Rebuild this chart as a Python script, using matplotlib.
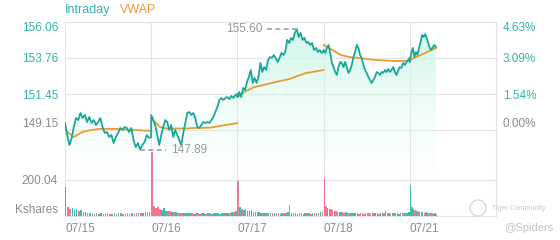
import numpy as np
import matplotlib.pyplot as plt
from matplotlib.colors import LinearSegmentedColormap
from matplotlib.patches import Polygon, Ellipse

plt.rcParams['font.family'] = ['Liberation Sans', 'DejaVu Sans']

# ---- data ----
dates = ["07/15", "07/16", "07/17", "07/18", "07/21"]
prev_close = 149.15
price_ticks = [149.15, 151.45, 153.76, 156.06]
vol_tick = 200.04
minutes_traded = [390, 390, 390, 390, 118]
open_bar_up = [True, False, False, False, True]

price_0715 = [149.60, 148.83, 148.19, 148.64, 149.34, 149.92, 149.79, 150.24, 149.92, 150.11,
              149.66, 149.98, 149.60, 149.79, 149.47, 149.66, 149.92, 149.34, 148.96, 149.02,
              148.70, 148.83, 148.32, 148.70, 148.96, 149.28, 149.15, 149.34, 149.28, 149.02,
              149.28, 148.51, 148.06, 148.32, 147.89, 148.19, 148.38, 148.83, 148.64, 148.70]
price_0716 = [150.11, 149.79, 149.47, 148.83, 148.19, 148.83, 149.34, 149.79, 149.66, 149.15,
              149.47, 148.70, 149.15, 148.83, 148.51, 148.19, 148.96, 149.60, 150.24, 150.30,
              150.11, 150.24, 149.92, 149.34, 149.28, 149.47, 149.66, 149.60, 149.66, 149.60,
              149.79, 149.98, 150.30, 150.62, 151.07, 151.20, 151.07, 151.20, 151.26, 151.13,
              151.33, 151.20, 151.39, 151.45]
price_0717 = [151.26, 151.58, 151.26, 151.84, 151.71, 152.22, 152.54, 152.99, 152.16, 152.48,
              152.16, 152.54, 153.44, 152.86, 153.18, 152.99, 153.63, 153.82, 153.76, 153.95,
              153.76, 153.50, 153.76, 154.08, 153.95, 154.14, 154.91, 154.72, 155.04, 154.91,
              155.36, 155.60, 155.10, 155.36, 154.91, 155.04, 154.72, 154.78, 154.59, 154.72,
              154.27, 154.40, 154.14, 154.27, 154.08, 154.21]
price_0718 = [154.27, 154.08, 154.40, 154.59, 154.08, 153.44, 153.18, 152.86, 152.67, 153.18,
              153.50, 153.44, 153.18, 153.50, 153.18, 152.80, 152.99, 153.31, 153.82, 154.14,
              154.59, 154.40, 153.95, 153.76, 153.31, 152.99, 152.80, 152.54, 152.35, 152.16,
              152.35, 152.54, 152.86, 152.80, 152.67, 152.86, 152.80, 152.99, 152.86, 153.05,
              152.86, 152.99, 153.18, 152.86, 152.67, 152.99, 153.18, 153.12, 153.44, 153.31,
              153.50, 153.63, 153.76]
price_0721 = [153.50, 154.08, 154.40, 153.82, 154.14, 153.95, 154.40, 154.78, 155.23, 155.10,
              155.29, 155.04, 154.72, 154.40, 154.27, 154.46, 154.59, 154.46]

vwap_0715 = [149.15, 148.70, 149.02, 149.15, 149.22, 149.22, 149.22, 149.18, 149.15, 149.12, 149.09]
vwap_0716 = [149.92, 149.34, 149.22, 149.25, 149.25, 149.28, 149.28, 149.31, 149.41, 149.50, 149.60]
vwap_0717 = [151.26, 151.65, 151.90, 152.03, 152.16, 152.29, 152.41, 152.61, 152.80, 152.89, 152.99]
vwap_0718 = [154.59, 154.27, 153.95, 153.82, 153.76, 153.69, 153.63, 153.60, 153.57, 153.57, 153.57]
vwap_0721 = [153.63, 153.82, 154.01, 154.21, 154.40]

# volume, thousand shares per sample
vol_0715 = [161, 48, 40, 45, 35, 38, 30, 32, 25, 20, 16, 18, 14, 12, 15, 12, 14, 10, 12, 14,
            10, 12, 14, 12, 15, 14, 12, 10, 14, 12, 15, 18, 14, 16, 15, 18, 20, 18, 25, 45]
vol_0716 = [356, 55, 42, 48, 40, 35, 42, 30, 26, 28, 22, 20, 24, 18, 15, 18, 16, 14, 15, 18,
            14, 12, 14, 15, 12, 14, 16, 12, 14, 15, 12, 18, 15, 14, 12, 15, 14, 16, 18, 15,
            20, 25, 30, 40]
vol_0717 = [194, 50, 40, 35, 38, 30, 28, 35, 25, 22, 20, 24, 18, 16, 15, 18, 16, 14, 15, 18,
            14, 15, 12, 14, 16, 18, 20, 61, 15, 14, 16, 12, 15, 14, 12, 15, 18, 14, 12, 15,
            14, 16, 18, 20, 25, 42]
vol_0718 = [211, 55, 45, 40, 38, 35, 30, 28, 25, 22, 24, 20, 18, 20, 16, 15, 18, 14, 15, 16,
            14, 12, 15, 14, 12, 15, 14, 16, 12, 14, 15, 18, 14, 12, 15, 14, 16, 28, 14, 15,
            12, 14, 18, 15, 14, 12, 15, 16, 14, 15, 18, 20, 28]
vol_0721 = [172, 50, 38, 35, 28, 30, 22, 25, 20, 18, 22, 15, 18, 14, 15, 12, 14, 10]

prices = [price_0715, price_0716, price_0717, price_0718, price_0721]
vwaps = [vwap_0715, vwap_0716, vwap_0717, vwap_0718, vwap_0721]
volumes = [vol_0715, vol_0716, vol_0717, vol_0718, vol_0721]

TEAL = "#17a89a"
TEAL_TXT = "#35b3a7"
ORANGE = "#ec9a34"
GRID = "#e3e3e3"
GRAY = "#8c8c8c"

fig = plt.figure(figsize=(5.6, 2.4), dpi=100)
ax = fig.add_axes([65 / 560, 1 - 216 / 240, 431 / 560, 194 / 240])

# price scale: the four labelled levels fill the top 108 px of 194
top = price_ticks[-1]
bottom = top - (top - price_ticks[0]) * 194 / 108

xs_all, ps_all = [], []
for d, (p, m) in enumerate(zip(prices, minutes_traded)):
    xs = d + np.linspace(0, m / 390, len(p))
    xs_all.extend(xs)
    ps_all.extend(p)
xs_all = np.array(xs_all)
ps_all = np.array(ps_all)

# gradient fill under the price line
cmap = LinearSegmentedColormap.from_list(
    "mint", [(0.88, 0.98, 0.95, 0.0), (0.80, 0.97, 0.91, 0.9)])
grad = np.linspace(0, 1, 256).reshape(-1, 1)
fill_floor = 146.3
img = ax.imshow(grad, extent=[0, 5, fill_floor, ps_all.max()], aspect="auto",
                cmap=cmap, origin="lower", zorder=1)
poly = Polygon(np.vstack([np.column_stack([xs_all, ps_all]),
                          [[xs_all[-1], fill_floor], [xs_all[0], fill_floor]]]),
               closed=True, facecolor="none", edgecolor="none", transform=ax.transData)
ax.add_patch(poly)
img.set_clip_path(poly)

ax.plot(xs_all, ps_all, color=TEAL, lw=1.3, zorder=4)
for d, (v, m) in enumerate(zip(vwaps, minutes_traded)):
    xs = d + np.linspace(0, m / 390, len(v))
    ax.plot(xs, v, color=ORANGE, lw=1.3, zorder=3)

# high / low markers
i_hi = int(np.argmax(ps_all))
i_lo = int(np.argmin(ps_all))
ax.plot([xs_all[i_hi] - 0.35, xs_all[i_hi]], [ps_all[i_hi]] * 2, ls=(0, (3, 2)), color="#a0a0a0", lw=1.2, zorder=5)
ax.text(xs_all[i_hi] - 0.40, ps_all[i_hi], f"{ps_all[i_hi]:.2f}", ha="right", va="center",
        color="#999999", fontsize=8.5, zorder=6)
ax.plot([xs_all[i_lo], xs_all[i_lo] + 0.30], [ps_all[i_lo]] * 2, ls=(0, (3, 2)), color="#a0a0a0", lw=1.2, zorder=5)
ax.text(xs_all[i_lo] + 0.36, ps_all[i_lo], f"{ps_all[i_lo]:.2f}", ha="left", va="center",
        color="#999999", fontsize=8.5, zorder=6)

ax.set_xlim(0, 5)
ax.set_ylim(bottom, top)
ax.set_xticks(range(5))
xl = ax.set_xticklabels(dates, ha="left")
ax.tick_params(axis="x", length=0, pad=5, labelsize=8.5, labelcolor=GRAY)
ax.set_yticks(price_ticks)
ylabs = ax.set_yticklabels([f"{t:.2f}" for t in price_ticks])
ax.tick_params(axis="y", length=0, pad=5, labelsize=8.5)
for t, lab in zip(price_ticks, ylabs):
    lab.set_color(GRAY if t == prev_close else TEAL_TXT)
ylabs[0].set_va("bottom")
ylabs[-1].set_va("top")
for t in price_ticks[:-1]:
    ax.axhline(t, color=GRID, lw=0.8, zorder=0)
for d in range(1, 5):
    ax.axvline(d, color=GRID, lw=0.8, zorder=0)
for s in ax.spines.values():
    s.set_color(GRID)
    s.set_linewidth(0.8)

# percentage axis on the right
to_pct = lambda p: (p - prev_close) / prev_close * 100
from_pct = lambda q: prev_close * (1 + q / 100)
sec = ax.secondary_yaxis("right", functions=(to_pct, from_pct))
pct_ticks = [round(to_pct(t), 2) for t in price_ticks]
sec.set_yticks(pct_ticks)
plabs = sec.set_yticklabels([f"{q:.2f}%" for q in pct_ticks])
sec.tick_params(length=0, pad=5, labelsize=8.5)
for q, lab in zip(pct_ticks, plabs):
    lab.set_color(GRAY if q == 0 else TEAL_TXT)
plabs[0].set_va("bottom")
plabs[-1].set_va("top")
sec.spines["right"].set_visible(False)

# volume bars
axv = ax.twinx()
axv.set_ylim(0, vol_tick * 194 / 36)
for d, (v, p, m) in enumerate(zip(volumes, prices, minutes_traded)):
    xs = d + np.linspace(0, m / 390, len(v))
    up = np.diff(np.concatenate([[p[0]], p])) >= 0
    up[0] = open_bar_up[d]
    cols = np.where(up, "#3dbdae", "#f07890")
    axv.bar(xs, v, width=0.016, color=cols, align="edge", zorder=2)
axv.axhline(vol_tick, color=GRID, lw=0.8, zorder=0)
axv.yaxis.tick_left()
axv.set_yticks([0, vol_tick])
vlabs = axv.set_yticklabels(["Kshares", f"{vol_tick:.2f}"])
axv.tick_params(axis="y", length=0, pad=5, labelsize=8.5, labelcolor=GRAY)
vlabs[0].set_va("bottom")
for s in axv.spines.values():
    s.set_visible(False)

# legend and watermark
fig.text(65 / 560, 1 - 10 / 240, "Intraday", color=TEAL_TXT, fontsize=9, va="center")
fig.text(120 / 560, 1 - 10 / 240, "VWAP", color=ORANGE, fontsize=9, va="center")
fig.patches.append(Ellipse((478 / 560, 1 - 208 / 240), 16 / 560, 16 / 240, transform=fig.transFigure,
                           fill=False, ec="#d4d4d4", lw=0.9))
fig.text(492 / 560, 1 - 208 / 240, "Tiger Community", color="#c8c8c8", fontsize=5, va="center")
fig.text(504 / 560, 1 - 228 / 240, "@Spiders", color="#c4c4c4", fontsize=8, va="center")

fig.savefig("out.png", dpi=100)
